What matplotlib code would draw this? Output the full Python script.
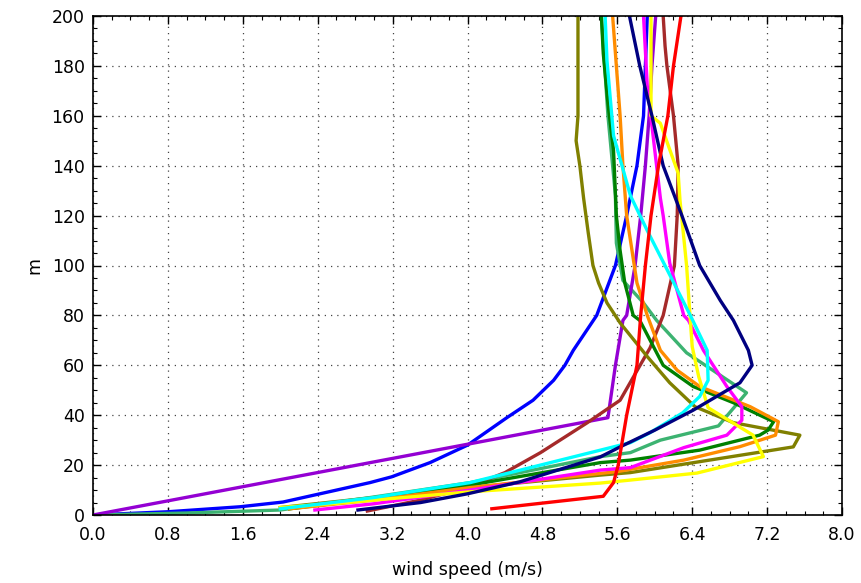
import matplotlib
matplotlib.use("Agg")
import matplotlib.pyplot as plt
from matplotlib.ticker import MultipleLocator

# wind profiles: speed (m/s) and height (m)
blue_u = [0.0, 0.8, 1.57, 2.03, 2.46, 2.96, 3.19, 3.6, 4.0, 4.42, 4.7, 4.92, 5.04, 5.13, 5.38, 5.58, 5.70, 5.81, 5.88, 5.90, 5.92]
blue_z = [0.0, 1.3, 3.3, 5.2, 8.8, 13, 15.3, 21, 28, 39, 46, 54, 60, 66, 80, 100, 120, 140, 160, 180, 200]

violet_u = [0.0, 5.50, 5.58, 5.66, 5.70, 5.79, 5.85, 5.90, 5.94, 5.97, 6.01]
violet_z = [0.0, 39, 60, 78, 80, 100, 120, 140, 160, 180, 200]

navy_u = [2.83, 3.5, 4.0, 4.56, 5.42, 5.63, 6.0, 6.41, 6.91, 7.04, 7.0, 6.84, 6.70, 6.48, 6.29, 6.09, 5.97, 5.84, 5.73]
navy_z = [2.0, 5, 8.5, 13.3, 23.3, 27.3, 34, 42, 53, 60, 66, 78, 86, 100, 120, 140, 160, 180, 200]

red_u = [4.26, 5.45, 5.56, 5.61, 5.70, 5.81, 5.85, 5.90, 5.96, 6.04, 6.14, 6.20, 6.28]
red_z = [2.5, 7.5, 13, 20, 40, 60, 80, 100, 120, 140, 160, 180, 200]

brown_u = [2.93, 3.5, 4.0, 4.4, 4.78, 5.28, 5.63, 5.95, 6.09, 6.21, 6.24, 6.25, 6.20, 6.13, 6.11, 6.09]
brown_z = [1.6, 6, 11, 17, 25, 37, 46, 67, 80, 100, 120, 140, 160, 180, 188, 200]

olive_u = [2.0, 3.0, 4.03, 5.42, 5.74, 7.48, 7.55, 6.84, 6.43, 6.16, 5.92, 5.63, 5.49, 5.40, 5.34, 5.29, 5.24, 5.20, 5.16, 5.18, 5.18, 5.18]
olive_z = [3.0, 7, 11, 16, 17, 27.3, 32, 37, 43.4, 53, 63.5, 77, 85, 93, 100, 113, 127, 140, 150, 160, 180, 200]

cyan_u = [2.0, 3.0, 4.03, 5.42, 5.74, 5.95, 6.30, 6.48, 6.57, 6.56, 6.38, 5.92, 5.74, 5.56, 5.49, 5.47]
cyan_z = [2.5, 7, 13, 26, 29, 33, 41, 47.5, 54, 66, 80, 114, 128, 152, 182, 200]

orange_u = [2.1, 3.0, 4.03, 5.6, 6.31, 6.91, 7.29, 7.32, 7.02, 6.48, 6.24, 6.06, 5.92, 5.81, 5.70, 5.66, 5.63, 5.59, 5.55]
orange_z = [2.5, 6, 11, 17.4, 22, 27.4, 32, 37.4, 43.4, 51.5, 58, 66, 80, 93, 120, 140, 160, 180, 200]

green_u = [2.1, 3.0, 4.03, 5.42, 5.74, 6.48, 7.12, 7.21, 7.27, 6.84, 6.41, 6.09, 5.84, 5.77, 5.68, 5.63, 5.59, 5.56, 5.50, 5.45, 5.43]
green_z = [2.5, 6.5, 12, 21, 22, 26, 32, 34, 37.4, 45, 51.5, 60, 78, 80, 93, 106, 120, 146, 165, 185, 200]

seagreen_u = [0.0, 1.0, 2.0, 2.96, 4.03, 5.42, 5.74, 6.06, 6.68, 6.98, 6.34, 6.02, 5.88, 5.66, 5.59, 5.58, 5.50, 5.43]
seagreen_z = [0.0, 0.8, 2.0, 7, 13, 23.4, 25, 30, 35.7, 49, 65, 78, 85, 94, 109, 128, 160, 200]

magenta_u = [2.37, 3.0, 4.03, 5.42, 5.74, 6.31, 6.77, 6.93, 6.93, 6.77, 6.52, 6.36, 6.31, 6.16, 6.09, 6.06, 5.92, 5.88]
magenta_z = [2.0, 4.5, 10, 18, 19, 27, 32, 38, 43.4, 51.5, 66, 78, 80, 101, 120, 127, 172, 200]

yellow_u = [2.0, 2.64, 4.03, 5.42, 5.74, 6.45, 7.16, 7.05, 6.57, 6.47, 6.40, 6.38, 6.34, 6.27, 6.25, 6.06, 5.96, 5.96]
yellow_z = [3.0, 4.8, 9.3, 12.8, 14, 16.8, 23.4, 32, 43, 55.4, 67.5, 78, 100, 126, 137, 157, 160, 200]

profiles = [
    (blue_u, blue_z, "blue"),
    (seagreen_u, seagreen_z, "mediumseagreen"),
    (violet_u, violet_z, "darkviolet"),
    (brown_u, brown_z, "brown"),
    (olive_u, olive_z, "olive"),
    (green_u, green_z, "green"),
    (orange_u, orange_z, "darkorange"),
    (magenta_u, magenta_z, "magenta"),
    (yellow_u, yellow_z, "yellow"),
    (cyan_u, cyan_z, "cyan"),
    (navy_u, navy_z, "navy"),
    (red_u, red_z, "red"),
]

fig = plt.figure(figsize=(8.62, 5.83), dpi=100)
ax = fig.add_axes([93 / 862, 68 / 583, 749 / 862, 499 / 583])

for u, z, col in profiles:
    ax.plot(u, z, color=col, lw=2.4, solid_joinstyle="round")

ax.set_xlim(0, 8)
ax.set_ylim(0, 200)
ax.xaxis.set_major_locator(MultipleLocator(0.8))
ax.xaxis.set_minor_locator(MultipleLocator(0.2))
ax.yaxis.set_major_locator(MultipleLocator(20))
ax.yaxis.set_minor_locator(MultipleLocator(5))
ax.xaxis.set_major_formatter(plt.FuncFormatter(lambda v, p: f"{v:.1f}"))
ax.tick_params(which="both", direction="in", top=True, right=True, labelsize=12.5)
ax.tick_params(which="major", length=6, width=1)
ax.tick_params(axis="x", which="major", pad=8)
ax.tick_params(axis="y", which="major", pad=6)
ax.tick_params(which="minor", length=3, width=0.8)
for s in ax.spines.values():
    s.set_linewidth(1.2)
ax.grid(True, which="major", color="#444444", linestyle=(0, (1, 4)), linewidth=0.9)

ax.set_xlabel("wind speed (m/s)", fontsize=12.5, labelpad=12)
ax.set_ylabel("m", fontsize=12.5, labelpad=6)

fig.savefig("out.png", dpi=100, facecolor="white")
